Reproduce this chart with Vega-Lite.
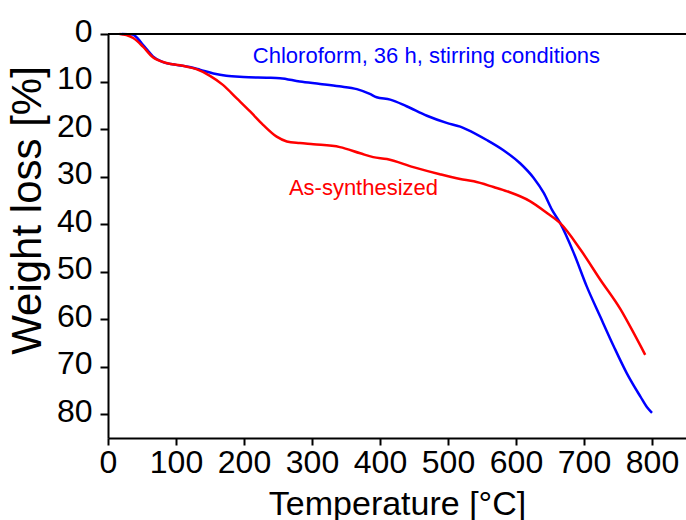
{
  "$schema": "https://vega.github.io/schema/vega-lite/v6.json",
  "width": 578,
  "height": 404,
  "autosize": {"type": "none"},
  "padding": {"left": 108, "top": 34, "right": 0, "bottom": 82},
  "background": "white",
  "config": {"view": {"stroke": null}, "axis": {"grid": false}},
  "datasets": {
    "tga": [
      {"series": "Chloroform", "T": 20, "W": 0},
      {"series": "Chloroform", "T": 36, "W": 0.1},
      {"series": "Chloroform", "T": 44, "W": 1.0},
      {"series": "Chloroform", "T": 51, "W": 2.2},
      {"series": "Chloroform", "T": 58, "W": 3.4},
      {"series": "Chloroform", "T": 66, "W": 4.7},
      {"series": "Chloroform", "T": 81, "W": 5.9},
      {"series": "Chloroform", "T": 100, "W": 6.5},
      {"series": "Chloroform", "T": 120, "W": 6.95},
      {"series": "Chloroform", "T": 135, "W": 7.5},
      {"series": "Chloroform", "T": 155, "W": 8.3},
      {"series": "Chloroform", "T": 174, "W": 8.8},
      {"series": "Chloroform", "T": 199, "W": 9.05},
      {"series": "Chloroform", "T": 233, "W": 9.2},
      {"series": "Chloroform", "T": 253, "W": 9.3},
      {"series": "Chloroform", "T": 282, "W": 10.0},
      {"series": "Chloroform", "T": 312, "W": 10.5},
      {"series": "Chloroform", "T": 340, "W": 11.0},
      {"series": "Chloroform", "T": 366, "W": 11.6},
      {"series": "Chloroform", "T": 385, "W": 12.6},
      {"series": "Chloroform", "T": 395, "W": 13.3},
      {"series": "Chloroform", "T": 415, "W": 13.8},
      {"series": "Chloroform", "T": 439, "W": 15.2},
      {"series": "Chloroform", "T": 469, "W": 17.2},
      {"series": "Chloroform", "T": 498, "W": 18.7},
      {"series": "Chloroform", "T": 518, "W": 19.5},
      {"series": "Chloroform", "T": 528, "W": 20.1},
      {"series": "Chloroform", "T": 557, "W": 22.3},
      {"series": "Chloroform", "T": 582, "W": 24.5},
      {"series": "Chloroform", "T": 606, "W": 27.2},
      {"series": "Chloroform", "T": 626, "W": 30.3},
      {"series": "Chloroform", "T": 641, "W": 33.5},
      {"series": "Chloroform", "T": 653, "W": 37.0},
      {"series": "Chloroform", "T": 665, "W": 39.8},
      {"series": "Chloroform", "T": 685, "W": 46.1},
      {"series": "Chloroform", "T": 704, "W": 53.1},
      {"series": "Chloroform", "T": 724, "W": 59.5},
      {"series": "Chloroform", "T": 744, "W": 65.8},
      {"series": "Chloroform", "T": 763, "W": 71.4},
      {"series": "Chloroform", "T": 783, "W": 76.3},
      {"series": "Chloroform", "T": 793, "W": 78.6},
      {"series": "Chloroform", "T": 800, "W": 79.7},
      {"series": "As-synthesized", "T": 17, "W": 0},
      {"series": "As-synthesized", "T": 27, "W": 0.2},
      {"series": "As-synthesized", "T": 37, "W": 0.85},
      {"series": "As-synthesized", "T": 51, "W": 2.6},
      {"series": "As-synthesized", "T": 66, "W": 4.9},
      {"series": "As-synthesized", "T": 86, "W": 6.1},
      {"series": "As-synthesized", "T": 110, "W": 6.7},
      {"series": "As-synthesized", "T": 130, "W": 7.4},
      {"series": "As-synthesized", "T": 150, "W": 8.8},
      {"series": "As-synthesized", "T": 169, "W": 10.7},
      {"series": "As-synthesized", "T": 189, "W": 13.5},
      {"series": "As-synthesized", "T": 209, "W": 16.3},
      {"series": "As-synthesized", "T": 228, "W": 19.1},
      {"series": "As-synthesized", "T": 248, "W": 21.6},
      {"series": "As-synthesized", "T": 263, "W": 22.6},
      {"series": "As-synthesized", "T": 282, "W": 22.95},
      {"series": "As-synthesized", "T": 302, "W": 23.2},
      {"series": "As-synthesized", "T": 341, "W": 23.8},
      {"series": "As-synthesized", "T": 371, "W": 25.1},
      {"series": "As-synthesized", "T": 390, "W": 25.9},
      {"series": "As-synthesized", "T": 410, "W": 26.3},
      {"series": "As-synthesized", "T": 449, "W": 28.0},
      {"series": "As-synthesized", "T": 488, "W": 29.5},
      {"series": "As-synthesized", "T": 518, "W": 30.5},
      {"series": "As-synthesized", "T": 538, "W": 31.0},
      {"series": "As-synthesized", "T": 567, "W": 32.2},
      {"series": "As-synthesized", "T": 587, "W": 33.1},
      {"series": "As-synthesized", "T": 621, "W": 35.2},
      {"series": "As-synthesized", "T": 646, "W": 37.7},
      {"series": "As-synthesized", "T": 665, "W": 39.8},
      {"series": "As-synthesized", "T": 695, "W": 45.4},
      {"series": "As-synthesized", "T": 724, "W": 51.7},
      {"series": "As-synthesized", "T": 754, "W": 58.0},
      {"series": "As-synthesized", "T": 773, "W": 62.9},
      {"series": "As-synthesized", "T": 790, "W": 67.5}
    ],
    "labels": [
      {"series": "Chloroform", "label": "Chloroform, 36 h, stirring conditions", "T": 213, "W": 6.0},
      {"series": "As-synthesized", "label": "As-synthesized", "T": 266, "W": 33.8}
    ],
    "frame": [
      {"W": 0}
    ]
  },
  "layer": [
    {
      "data": {"name": "tga"},
      "mark": {"type": "line", "interpolate": "monotone", "strokeWidth": 2.5},
      "encoding": {
        "x": {
          "field": "T",
          "type": "quantitative",
          "scale": {"domain": [0, 850], "nice": false, "zero": false},
          "axis": {
            "title": "Temperature [°C]",
            "values": [0, 50, 100, 150, 200, 250, 300, 350, 400, 450, 500, 550, 600, 650, 700, 750, 800],
            "labelExpr": "datum.value % 100 === 0 ? datum.label : ''",
            "labelFont": "Liberation Sans",
            "labelFontSize": 32,
            "labelColor": "black",
            "labelPadding": 2,
            "labelFlush": false,
            "labelOverlap": false,
            "tickColor": "black",
            "tickWidth": 2,
            "tickSize": 7,
            "domainColor": "black",
            "domainWidth": 2,
            "titleFont": "Liberation Sans",
            "titleFontSize": 34,
            "titleFontWeight": "normal",
            "titleColor": "black",
            "titleY": 76,
            "titleBaseline": "alphabetic",
            "encoding": {"ticks": {"y2": {"signal": "datum.value % 100 === 0 ? 7 : 4"}}}
          }
        },
        "y": {
          "field": "W",
          "type": "quantitative",
          "scale": {"domain": [0, 85], "reverse": true, "nice": false, "zero": false},
          "axis": {
            "title": "Weight loss [%]",
            "values": [0, 5, 10, 15, 20, 25, 30, 35, 40, 45, 50, 55, 60, 65, 70, 75, 80],
            "labelExpr": "datum.value % 10 === 0 ? datum.label : ''",
            "labelFont": "Liberation Sans",
            "labelFontSize": 32,
            "labelColor": "black",
            "labelPadding": 8,
            "labelFlush": false,
            "labelOverlap": false,
            "labelOffset": -3,
            "tickColor": "black",
            "tickWidth": 2,
            "tickSize": 8,
            "domainColor": "black",
            "domainWidth": 2,
            "titleFont": "Liberation Sans",
            "titleFontSize": 42,
            "titleFontWeight": "normal",
            "titleColor": "black",
            "titleAngle": -90,
            "titleX": -68,
            "titleY": 176,
            "titleAlign": "center",
            "titleBaseline": "alphabetic",
            "encoding": {"ticks": {"x2": {"signal": "datum.value % 10 === 0 ? -8 : -4"}}}
          }
        },
        "color": {
          "field": "series",
          "type": "nominal",
          "scale": {"domain": ["Chloroform", "As-synthesized"], "range": ["#0000ff", "#ff0000"]},
          "legend": null
        }
      }
    },
    {
      "data": {"name": "frame"},
      "mark": {"type": "rule", "stroke": "black", "strokeWidth": 2},
      "encoding": {"y": {"field": "W", "type": "quantitative"}}
    },
    {
      "data": {"name": "labels"},
      "mark": {"type": "text", "align": "left", "baseline": "alphabetic", "font": "Liberation Sans", "fontSize": 22},
      "encoding": {
        "x": {"field": "T", "type": "quantitative"},
        "y": {"field": "W", "type": "quantitative"},
        "text": {"field": "label"},
        "color": {"field": "series", "type": "nominal", "legend": null}
      }
    }
  ]
}
